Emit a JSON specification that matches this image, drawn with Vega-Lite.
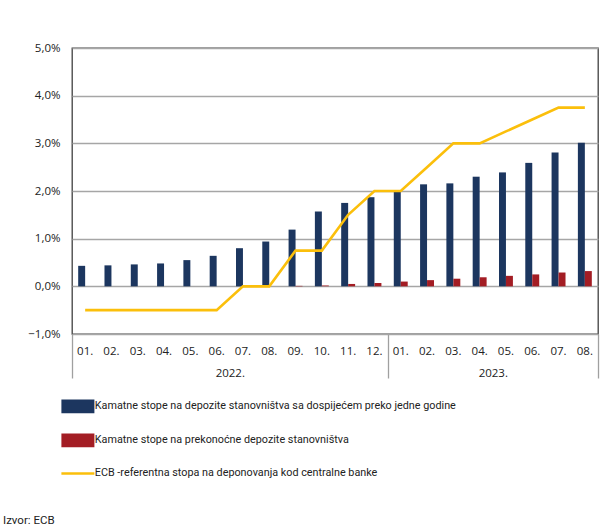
{
  "$schema": "https://vega.github.io/schema/vega-lite/v6.json",
  "width": 526,
  "height": 286,
  "autosize": {"type": "none"},
  "padding": {"left": 72, "top": 48, "right": 18, "bottom": 196},
  "background": "white",
  "config": {
    "font": "Open Sans",
    "view": {"stroke": "#404040", "strokeWidth": 1.3},
    "axis": {"labelFont": "Open Sans", "labelColor": "#222", "labelFontSize": 11.5}
  },
  "title": {
    "text": "Izvor: ECB",
    "orient": "bottom",
    "anchor": "start",
    "frame": "group",
    "dx": -69,
    "offset": 36,
    "fontSize": 11.5,
    "fontWeight": "normal",
    "color": "#222",
    "font": "Roboto"
  },
  "datasets": {
    "rates": [
      {"month": "2022-01", "series": "Kamatne stope na depozite stanovništva sa dospijećem preko jedne godine", "value": 0.43},
      {"month": "2022-02", "series": "Kamatne stope na depozite stanovništva sa dospijećem preko jedne godine", "value": 0.44},
      {"month": "2022-03", "series": "Kamatne stope na depozite stanovništva sa dospijećem preko jedne godine", "value": 0.46},
      {"month": "2022-04", "series": "Kamatne stope na depozite stanovništva sa dospijećem preko jedne godine", "value": 0.48},
      {"month": "2022-05", "series": "Kamatne stope na depozite stanovništva sa dospijećem preko jedne godine", "value": 0.55},
      {"month": "2022-06", "series": "Kamatne stope na depozite stanovništva sa dospijećem preko jedne godine", "value": 0.64},
      {"month": "2022-07", "series": "Kamatne stope na depozite stanovništva sa dospijećem preko jedne godine", "value": 0.80},
      {"month": "2022-08", "series": "Kamatne stope na depozite stanovništva sa dospijećem preko jedne godine", "value": 0.94},
      {"month": "2022-09", "series": "Kamatne stope na depozite stanovništva sa dospijećem preko jedne godine", "value": 1.19},
      {"month": "2022-10", "series": "Kamatne stope na depozite stanovništva sa dospijećem preko jedne godine", "value": 1.57},
      {"month": "2022-11", "series": "Kamatne stope na depozite stanovništva sa dospijećem preko jedne godine", "value": 1.75},
      {"month": "2022-12", "series": "Kamatne stope na depozite stanovništva sa dospijećem preko jedne godine", "value": 1.87},
      {"month": "2023-01", "series": "Kamatne stope na depozite stanovništva sa dospijećem preko jedne godine", "value": 1.99},
      {"month": "2023-02", "series": "Kamatne stope na depozite stanovništva sa dospijećem preko jedne godine", "value": 2.14},
      {"month": "2023-03", "series": "Kamatne stope na depozite stanovništva sa dospijećem preko jedne godine", "value": 2.16},
      {"month": "2023-04", "series": "Kamatne stope na depozite stanovništva sa dospijećem preko jedne godine", "value": 2.30},
      {"month": "2023-05", "series": "Kamatne stope na depozite stanovništva sa dospijećem preko jedne godine", "value": 2.39},
      {"month": "2023-06", "series": "Kamatne stope na depozite stanovništva sa dospijećem preko jedne godine", "value": 2.59},
      {"month": "2023-07", "series": "Kamatne stope na depozite stanovništva sa dospijećem preko jedne godine", "value": 2.81},
      {"month": "2023-08", "series": "Kamatne stope na depozite stanovništva sa dospijećem preko jedne godine", "value": 3.01},
      {"month": "2022-01", "series": "Kamatne stope na prekonoćne depozite stanovništva", "value": 0},
      {"month": "2022-02", "series": "Kamatne stope na prekonoćne depozite stanovništva", "value": 0},
      {"month": "2022-03", "series": "Kamatne stope na prekonoćne depozite stanovništva", "value": 0},
      {"month": "2022-04", "series": "Kamatne stope na prekonoćne depozite stanovništva", "value": 0},
      {"month": "2022-05", "series": "Kamatne stope na prekonoćne depozite stanovništva", "value": 0},
      {"month": "2022-06", "series": "Kamatne stope na prekonoćne depozite stanovništva", "value": 0},
      {"month": "2022-07", "series": "Kamatne stope na prekonoćne depozite stanovništva", "value": 0},
      {"month": "2022-08", "series": "Kamatne stope na prekonoćne depozite stanovništva", "value": 0},
      {"month": "2022-09", "series": "Kamatne stope na prekonoćne depozite stanovništva", "value": 0.01},
      {"month": "2022-10", "series": "Kamatne stope na prekonoćne depozite stanovništva", "value": 0.02},
      {"month": "2022-11", "series": "Kamatne stope na prekonoćne depozite stanovništva", "value": 0.05},
      {"month": "2022-12", "series": "Kamatne stope na prekonoćne depozite stanovništva", "value": 0.07},
      {"month": "2023-01", "series": "Kamatne stope na prekonoćne depozite stanovništva", "value": 0.10},
      {"month": "2023-02", "series": "Kamatne stope na prekonoćne depozite stanovništva", "value": 0.13},
      {"month": "2023-03", "series": "Kamatne stope na prekonoćne depozite stanovništva", "value": 0.16},
      {"month": "2023-04", "series": "Kamatne stope na prekonoćne depozite stanovništva", "value": 0.19},
      {"month": "2023-05", "series": "Kamatne stope na prekonoćne depozite stanovništva", "value": 0.22},
      {"month": "2023-06", "series": "Kamatne stope na prekonoćne depozite stanovništva", "value": 0.25},
      {"month": "2023-07", "series": "Kamatne stope na prekonoćne depozite stanovništva", "value": 0.29},
      {"month": "2023-08", "series": "Kamatne stope na prekonoćne depozite stanovništva", "value": 0.32},
      {"month": "2022-01", "series": "ECB -referentna stopa na deponovanja kod centralne banke", "value": -0.5},
      {"month": "2022-02", "series": "ECB -referentna stopa na deponovanja kod centralne banke", "value": -0.5},
      {"month": "2022-03", "series": "ECB -referentna stopa na deponovanja kod centralne banke", "value": -0.5},
      {"month": "2022-04", "series": "ECB -referentna stopa na deponovanja kod centralne banke", "value": -0.5},
      {"month": "2022-05", "series": "ECB -referentna stopa na deponovanja kod centralne banke", "value": -0.5},
      {"month": "2022-06", "series": "ECB -referentna stopa na deponovanja kod centralne banke", "value": -0.5},
      {"month": "2022-07", "series": "ECB -referentna stopa na deponovanja kod centralne banke", "value": 0},
      {"month": "2022-08", "series": "ECB -referentna stopa na deponovanja kod centralne banke", "value": 0},
      {"month": "2022-09", "series": "ECB -referentna stopa na deponovanja kod centralne banke", "value": 0.75},
      {"month": "2022-10", "series": "ECB -referentna stopa na deponovanja kod centralne banke", "value": 0.75},
      {"month": "2022-11", "series": "ECB -referentna stopa na deponovanja kod centralne banke", "value": 1.5},
      {"month": "2022-12", "series": "ECB -referentna stopa na deponovanja kod centralne banke", "value": 2.0},
      {"month": "2023-01", "series": "ECB -referentna stopa na deponovanja kod centralne banke", "value": 2.0},
      {"month": "2023-02", "series": "ECB -referentna stopa na deponovanja kod centralne banke", "value": 2.5},
      {"month": "2023-03", "series": "ECB -referentna stopa na deponovanja kod centralne banke", "value": 3.0},
      {"month": "2023-04", "series": "ECB -referentna stopa na deponovanja kod centralne banke", "value": 3.0},
      {"month": "2023-05", "series": "ECB -referentna stopa na deponovanja kod centralne banke", "value": 3.25},
      {"month": "2023-06", "series": "ECB -referentna stopa na deponovanja kod centralne banke", "value": 3.5},
      {"month": "2023-07", "series": "ECB -referentna stopa na deponovanja kod centralne banke", "value": 3.75},
      {"month": "2023-08", "series": "ECB -referentna stopa na deponovanja kod centralne banke", "value": 3.75}
    ],
    "years": [
      {"year": "2022.", "start": 0, "end": 12},
      {"year": "2023.", "start": 12, "end": 20}
    ]
  },
  "layer": [
    {
      "data": {"name": "rates"},
      "encoding": {
        "x": {
          "field": "month",
          "type": "ordinal",
          "sort": null,
          "scale": {"paddingInner": 0.47, "paddingOuter": 0.235},
          "axis": {
            "title": null,
            "labelExpr": "substring(datum.value, 5) + '.'",
            "labelAngle": 0,
            "ticks": false,
            "domain": false,
            "labelPadding": 11
          }
        },
        "y": {
          "field": "value",
          "type": "quantitative",
          "scale": {"domain": [-1, 5], "nice": false, "zero": false},
          "axis": {
            "title": null,
            "values": [-1, 0, 1, 2, 3, 4, 5],
            "labelExpr": "replace(format(datum.value, '.1f'), '.', ',') + '%'",
            "ticks": false,
            "domain": false,
            "labelPadding": 12,
            "gridColor": "#a6a6a6",
            "gridWidth": 1.3
          }
        },
        "color": {
          "field": "series",
          "type": "nominal",
          "scale": {
            "domain": [
              "Kamatne stope na depozite stanovništva sa dospijećem preko jedne godine",
              "Kamatne stope na prekonoćne depozite stanovništva",
              "ECB -referentna stopa na deponovanja kod centralne banke"
            ],
            "range": ["#1c365f", "#a31d24", "#fbbf0b"]
          },
          "legend": {
            "orient": "none",
            "legendX": 0.5,
            "legendY": 353,
            "title": null,
            "padding": 0,
            "rowPadding": 19,
            "symbolSize": 1089,
            "symbolType": "M-1,-0.42H1V0.42H-1Z",
            "labelFontSize": 10.8,
            "labelFont": "Roboto",
            "labelColor": "#222",
            "labelOffset": 11.5,
            "labelLimit": 500,
            "encode": {
              "symbols": {
                "update": {
                  "shape": {"signal": "datum.value === 'ECB -referentna stopa na deponovanja kod centralne banke' ? 'stroke' : 'M-1,-0.42H1V0.42H-1Z'"},
                  "fill": {"scale": "color", "field": "value"},
                  "stroke": {"scale": "color", "field": "value"},
                  "strokeWidth": {"signal": "datum.value === 'ECB -referentna stopa na deponovanja kod centralne banke' ? 2.5 : 0"},
                  "opacity": {"value": 1},
                  "fillOpacity": {"value": 1},
                  "strokeOpacity": {"value": 1}
                }
              }
            }
          }
        }
      },
      "layer": [
        {
          "transform": [{"filter": "datum.series !== 'ECB -referentna stopa na deponovanja kod centralne banke'"}],
          "mark": {"type": "bar"},
          "encoding": {
            "xOffset": {
              "field": "series",
              "type": "nominal",
              "scale": {
                "domain": [
                  "Kamatne stope na depozite stanovništva sa dospijećem preko jedne godine",
                  "Kamatne stope na prekonoćne depozite stanovništva"
                ],
                "paddingInner": 0,
                "paddingOuter": 0
              }
            },
            "y2": {"datum": 0}
          }
        },
        {
          "transform": [{"filter": "datum.series === 'ECB -referentna stopa na deponovanja kod centralne banke'"}],
          "mark": {"type": "line", "strokeWidth": 2.6},
          "encoding": {}
        }
      ]
    },
    {
      "data": {"name": "years"},
      "mark": {"type": "rule", "opacity": 0},
      "encoding": {
        "x": {
          "field": "start",
          "type": "quantitative",
          "scale": {"domain": [0, 20], "nice": false, "zero": false},
          "axis": {
            "orient": "bottom",
            "title": null,
            "values": [0, 6, 12, 16, 20],
            "labelExpr": "datum.value == 6 ? '2022.' : datum.value == 16 ? '2023.' : ''",
            "grid": false,
            "domain": false,
            "tickSize": 44,
            "tickWidth": 1.3,
            "tickColor": {"condition": {"test": "datum.value == 6 || datum.value == 16", "value": "transparent"}, "value": "#a0a0a0"},
            "labelPadding": -11,
            "labelFontSize": 11.5,
            "labelColor": "#222"
          }
        }
      }
    }
  ],
  "resolve": {"scale": {"x": "independent"}, "axis": {"x": "independent"}}
}
